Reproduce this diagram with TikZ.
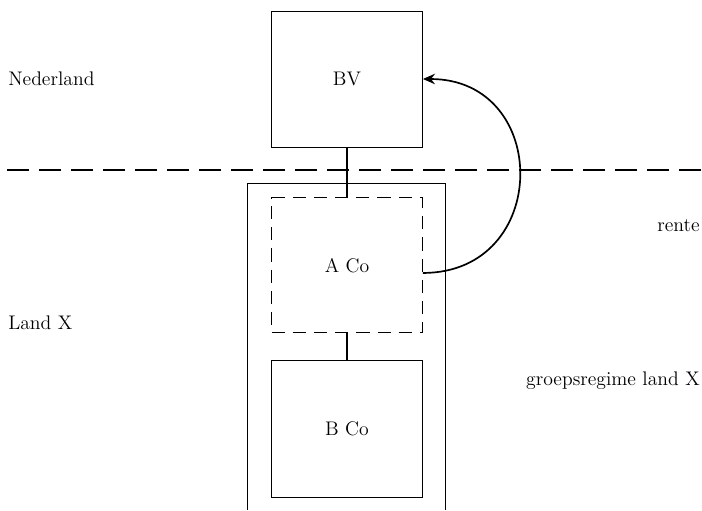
\documentclass[tikz,border=0pt]{standalone}
\usepackage{tikz}
\usetikzlibrary{arrows,arrows.meta,shapes}
\usetikzlibrary{positioning}
\usetikzlibrary{calc}
\tikzstyle{entity} = [draw, semithick, rectangle, minimum height = 3.4cm, minimum width = 3.775cm]
\tikzstyle{hybrid} = [entity, dashed, dash pattern = on 0.33cm off 0.2cm]
\tikzstyle{link} = [very thick]
\tikzstyle{arrow} = [very thick,-{Stealth[length = 3mm, width = 2.6mm]}]
\tikzstyle{label} = [inner sep = 0pt]

\begin{document}
\begin{tikzpicture}[font = \fontsize{14}{16}\selectfont]
			\useasboundingbox (0,0) rectangle (17.55,-12.75);
			
			%Entities
			\node[entity] (bv) at (8.675,-1.975) {BV};
			\node[hybrid, below = 1.25 cm of bv, minimum height = 3.375cm] (aco) {A Co};
			\node[entity, below = 0.675 cm of aco, minimum height = 3.425cm] (bco) {B Co};
			
			% Border Nederland / Land X
			\coordinate (lborder) at (0.175,-4.25);
			\coordinate (rborder) at (17.55,-4.25);
			\draw[very thick, dash pattern = on 0.55cm off 0.25cm] (lborder) -- (rborder);
			
			% Group regime frame (open at the bottom)
			\coordinate (bottom) at (0,-12.75);
			\coordinate[above left = 0.35 cm and 0.6 cm of aco.north west] (fnw);
			\coordinate[above right = 0.35 cm and 0.55 cm of aco.north east] (fne);
			\draw[semithick] (fnw |- bottom) -- (fnw) -- (fne) -- (fne |- bottom);
			
			% Connect all nodes defined above
			\draw[link] (bv) -- (aco);
			\draw[link] (aco) -- (bco);
			\coordinate (rente) at ($(aco.east) + (0,-0.19)$);
			\draw[arrow] (rente) to[out = 0, in = 0, looseness = 1.7] (bv.east);
			
			% Labels
			\node[label, anchor = west] (nl) at (0.2,-1.975) {Nederland};
			\node[label, anchor = west] (landx) at (0.2,-8.075) {Land X};
			\node[label, anchor = east] (rentelbl) at (17.5,-5.65) {rente};
			\node[label, anchor = east] (regime) at (17.5,-9.525) {groepsregime land X};
		
		\end{tikzpicture}
\end{document}
